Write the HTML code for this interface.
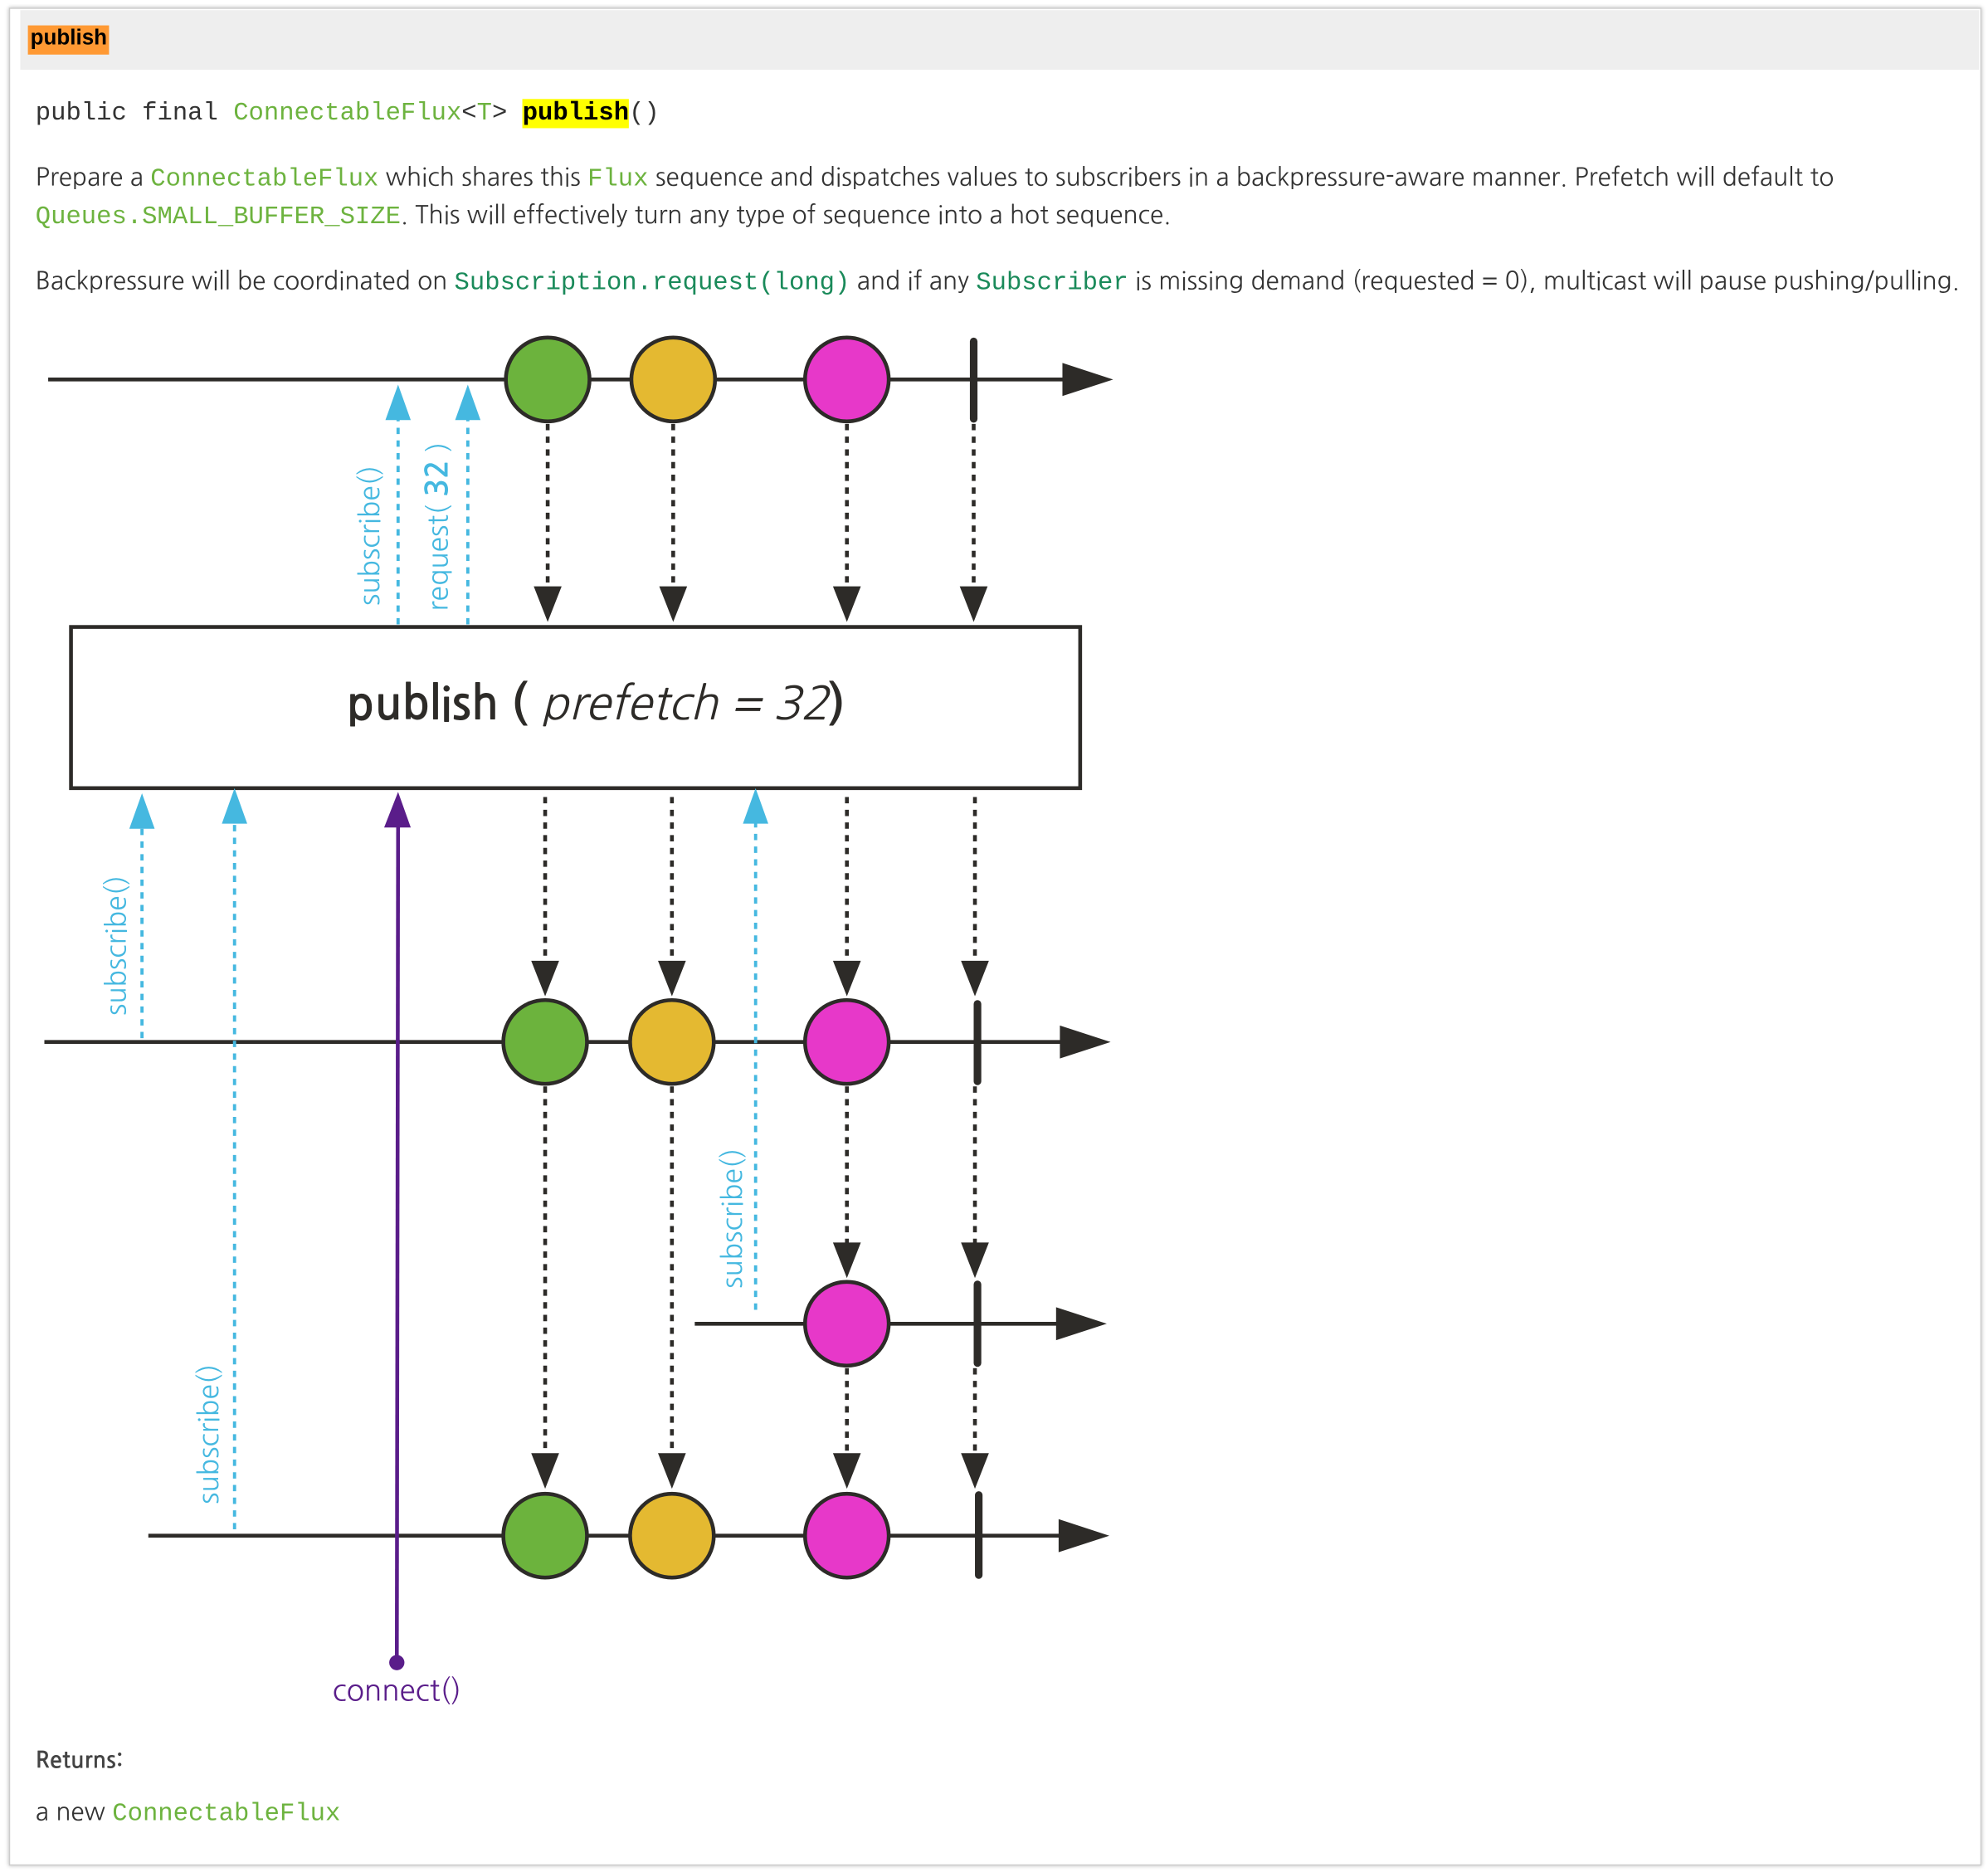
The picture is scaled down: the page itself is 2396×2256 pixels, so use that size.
<!DOCTYPE html>
<html><head><meta charset="utf-8"><style>
html,body{margin:0;padding:0;background:#fff;}
body{width:2396px;height:2256px;overflow:hidden;}
#w{position:absolute;left:0;top:0;width:1568px;height:1475px;transform:scale(1.528,1.5295);transform-origin:0 0;}
.box{position:absolute;left:7px;top:6px;width:1554px;height:1462px;border:1px solid #ccc;box-shadow:0 0 3px #bbb;background:#fff;}
.hdr{position:absolute;left:16px;top:8px;width:1545px;height:47px;background:#eee;}
.tag{position:absolute;left:22px;top:20px;height:23px;line-height:23px;padding:0 2px;background:#f93;font:bold 17px "Liberation Sans","NanumGothic",sans-serif;color:#000;}
.t{position:absolute;left:28px;font:19.5px "NanumGothic","Liberation Sans",sans-serif;color:#333;white-space:nowrap;}
.m{font-family:"Liberation Mono",monospace;font-size:20px;}
.g{color:#6db33f;}.tg{color:#1a8a5a;}
</style></head><body><div id="w">
<div class="box"></div>
<div class="hdr"></div>
<div class="tag">publish</div>
<div class="t m" style="top:78px;font-size:20px;color:#333">public final <span class="g">ConnectableFlux</span>&lt;<span class="g">T</span>&gt; <span style="background:#ff0;color:#000;font-weight:bold">publish</span>()</div>
<div class="t" style="top:127px">Prepare a <span class="m g">ConnectableFlux</span> which shares this <span class="m g">Flux</span> sequence and dispatches values to subscribers in a backpressure-aware manner. Prefetch will default to</div>
<div class="t" style="top:157px"><span class="m g">Queues.SMALL_BUFFER_SIZE</span>. This will effectively turn any type of sequence into a hot sequence.</div>
<div class="t" style="top:209px">Backpressure will be coordinated on <span class="m tg">Subscription.request(long)</span> and if any <span class="m tg">Subscriber</span> is missing demand (requested = 0), multicast will pause pushing/pulling.</div>
<div class="t" style="top:1378px;font-weight:bold;font-size:18px;color:#444">Returns:</div>
<div class="t" style="top:1415px">a new <span class="m g">ConnectableFlux</span></div>
<svg style="position:absolute;left:0;top:0" width="1568" height="1475">
<g stroke="#2d2b28" stroke-width="3" fill="none">
<line x1="38" y1="299" x2="845" y2="299"/><line x1="35" y1="821" x2="842" y2="821"/>
<line x1="548" y1="1043" x2="840" y2="1043"/><line x1="117" y1="1210" x2="842" y2="1210"/>
</g>
<g fill="#2d2b28">
<path d="M838,286L878,299L838,312Z"/><path d="M836,808L876,821L836,834Z"/>
<path d="M833,1030L873,1043L833,1056Z"/><path d="M835,1197L875,1210L835,1223Z"/>
</g>
<g stroke="#2d2b28" stroke-width="3" stroke-dasharray="5,5" fill="none">
<line x1="432" y1="334" x2="432" y2="465"/><line x1="531" y1="334" x2="531" y2="465"/><line x1="668" y1="334" x2="668" y2="465"/><line x1="768" y1="334" x2="768" y2="465"/>
<line x1="430" y1="628" x2="430" y2="760"/><line x1="530" y1="628" x2="530" y2="760"/><line x1="668" y1="628" x2="668" y2="760"/><line x1="769" y1="628" x2="769" y2="760"/>
<line x1="430" y1="856" x2="430" y2="1148"/><line x1="530" y1="856" x2="530" y2="1148"/><line x1="668" y1="856" x2="668" y2="982"/><line x1="769" y1="856" x2="769" y2="982"/>
<line x1="668" y1="1078" x2="668" y2="1148"/><line x1="769" y1="1078" x2="769" y2="1148"/>
</g>
<g fill="#2d2b28">
<path d="M421,462L443,462L432,490Z"/><path d="M520,462L542,462L531,490Z"/><path d="M657,462L679,462L668,490Z"/><path d="M757,462L779,462L768,490Z"/>
<path d="M419,757L441,757L430,785Z"/><path d="M519,757L541,757L530,785Z"/><path d="M657,757L679,757L668,785Z"/><path d="M758,757L780,757L769,785Z"/>
<path d="M419,1145L441,1145L430,1173Z"/><path d="M519,1145L541,1145L530,1173Z"/><path d="M657,979L679,979L668,1007Z"/><path d="M758,979L780,979L769,1007Z"/>
<path d="M657,1145L679,1145L668,1173Z"/><path d="M758,1145L780,1145L769,1173Z"/>
</g>
<g stroke="#2d2b28" stroke-width="3">
<circle cx="432" cy="299" r="33" fill="#6cb33d"/><circle cx="531" cy="299" r="33" fill="#e4b931"/><circle cx="668" cy="299" r="33" fill="#e738c9"/>
<circle cx="430" cy="821" r="33" fill="#6cb33d"/><circle cx="530" cy="821" r="33" fill="#e4b931"/><circle cx="668" cy="821" r="33" fill="#e738c9"/>
<circle cx="668" cy="1043" r="33" fill="#e738c9"/>
<circle cx="430" cy="1210" r="33" fill="#6cb33d"/><circle cx="530" cy="1210" r="33" fill="#e4b931"/><circle cx="668" cy="1210" r="33" fill="#e738c9"/>
</g>
<g stroke="#2d2b28" stroke-width="6" stroke-linecap="round">
<line x1="768" y1="269" x2="768" y2="330"/><line x1="771" y1="791" x2="771" y2="852"/><line x1="771" y1="1012" x2="771" y2="1074"/><line x1="772" y1="1178" x2="772" y2="1241"/>
</g>
<rect x="56" y="494" width="796" height="127" fill="#fff" stroke="#2d2b28" stroke-width="3"/>
<text x="470" y="567" text-anchor="middle" font-family="'NanumGothic','Liberation Sans',sans-serif" font-size="36" fill="#2d2b28"><tspan font-weight="bold">publish (</tspan> <tspan font-style="italic">prefetch = 32</tspan><tspan font-weight="bold">)</tspan></text>
<g stroke="#45b8e0" stroke-width="2.5" stroke-dasharray="5,5" fill="none">
<line x1="314" y1="492" x2="314" y2="330"/><line x1="369" y1="492" x2="369" y2="330"/>
<line x1="112" y1="818" x2="112" y2="652"/><line x1="185" y1="1205" x2="185" y2="648"/><line x1="596" y1="1032" x2="596" y2="648"/>
</g>
<g fill="#45b8e0">
<path d="M304,331L324,331L314,303Z"/><path d="M359,331L379,331L369,303Z"/>
<path d="M102,653L122,653L112,625Z"/><path d="M175,649L195,649L185,621Z"/><path d="M586,649L606,649L596,621Z"/>
</g>
<line x1="313" y1="1310" x2="314" y2="650" stroke="#5a1d8a" stroke-width="3"/>
<path d="M303,652L324,652L314,624Z" fill="#5a1d8a"/>
<circle cx="313" cy="1310" r="6" fill="#5a1d8a"/>
<g font-family="'NanumGothic','Liberation Sans',sans-serif" font-size="22" fill="#45b8e0">
<text transform="translate(299,422) rotate(-90)" text-anchor="middle">subscribe()</text>
<text transform="translate(353,415) rotate(-90)" text-anchor="middle">request( <tspan font-weight="bold" font-size="24">32</tspan> )</text>
<text transform="translate(99,745) rotate(-90)" text-anchor="middle">subscribe()</text>
<text transform="translate(585,960) rotate(-90)" text-anchor="middle">subscribe()</text>
<text transform="translate(172,1130) rotate(-90)" text-anchor="middle">subscribe()</text>
</g>
<text x="313" y="1340" text-anchor="middle" font-family="'NanumGothic','Liberation Sans',sans-serif" font-size="23" fill="#5a1d8a">connect()</text>
</svg>
</div></body></html>
